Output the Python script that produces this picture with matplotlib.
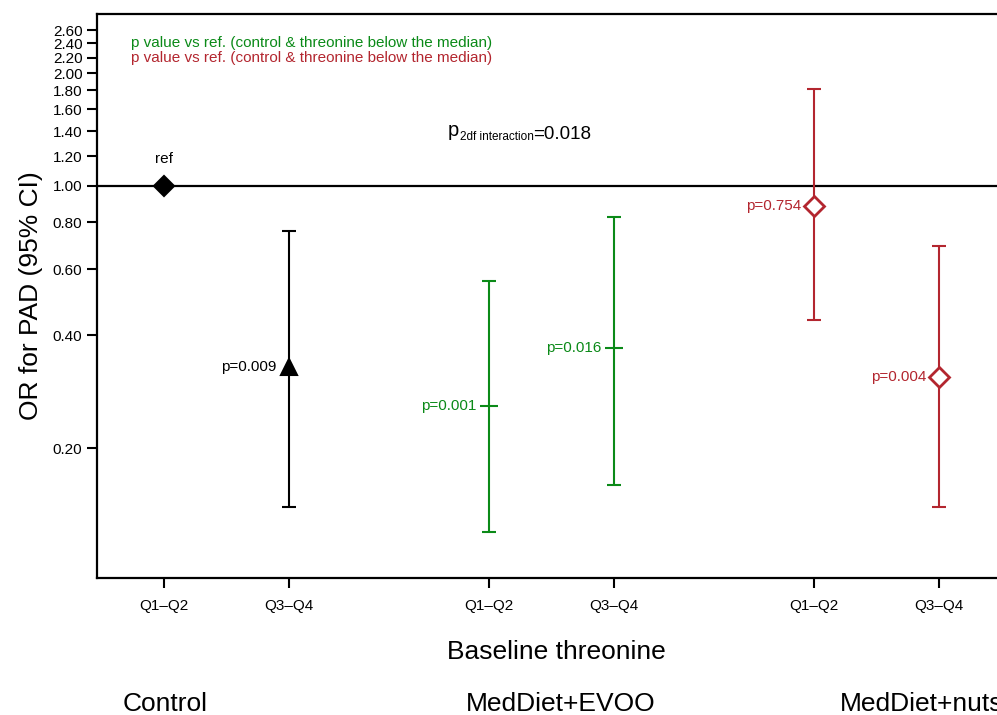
import matplotlib
matplotlib.use("Agg")
import matplotlib.pyplot as plt

plt.rcParams['font.family'] = ['Liberation Sans', 'DejaVu Sans']

# data (odds ratios, 95% CI)
groups = ["Control", "MedDiet+EVOO", "MedDiet+nuts"]
tick_labels = ["Q1\u2013Q2", "Q3\u2013Q4", "Q1\u2013Q2", "Q3\u2013Q4", "Q1\u2013Q2", "Q3\u2013Q4"]
xpos = [1, 2, 3.6, 4.6, 6.2, 7.2]
or_est = [1.00, 0.328, 0.259, 0.369, 0.886, 0.310]
ci_low = [None, 0.1395, 0.1197, 0.1593, 0.439, 0.1395]
ci_high = [None, 0.759, 0.559, 0.828, 1.811, 0.692]
p_labels = ["ref", "p=0.009", "p=0.001", "p=0.016", "p=0.754", "p=0.004"]
yticks = [0.20, 0.40, 0.60, 0.80, 1.00, 1.20, 1.40, 1.60, 1.80, 2.00, 2.20, 2.40, 2.60]

green = '#0b8a18'
red = '#b3262f'
colors = ['black', 'black', green, green, red, red]
markers = ['D', '^', '_', '_', 'D', 'D']
faces = ['black', 'black', green, green, 'white', 'white']

fig = plt.figure(figsize=(9.97, 7.15), dpi=100)
ax = fig.add_axes([0.0973, 0.1916, 0.9256, 0.7888])
ax.set_yscale('log')

ax.axhline(1.0, color='black', lw=1.6, zorder=1)

for i in range(len(xpos)):
    if ci_low[i] is not None:
        ax.errorbar(xpos[i], or_est[i],
                    yerr=[[or_est[i] - ci_low[i]], [ci_high[i] - or_est[i]]],
                    fmt='none', ecolor=colors[i], elinewidth=1.5,
                    capsize=5, capthick=1.5, zorder=2)
    ms = 13 if markers[i] == '_' else (11 if markers[i] == '^' else 10)
    ax.plot(xpos[i], or_est[i], marker=markers[i], ms=ms, color=colors[i],
            mfc=faces[i], mec=colors[i], mew=2 if faces[i] == 'white' else 1.5,
            zorder=3)
    if i == 0:
        ax.text(xpos[i], 1.18, p_labels[i], ha='center', va='center', fontsize=11)
    else:
        ax.text(xpos[i] - 0.1, or_est[i], p_labels[i], ha='right', va='center',
                fontsize=11, color=colors[i])

ax.set_ylim(0.090, 2.876)
ax.set_xlim(0.464, 7.848)
ax.set_yticks(yticks)
ax.set_yticklabels([f"{v:.2f}" for v in yticks])
ax.minorticks_off()
ax.set_xticks(xpos)
ax.set_xticklabels(tick_labels)
ax.tick_params(axis='both', direction='out', length=7, width=1.5, labelsize=11)
ax.tick_params(axis='x', pad=8)
for s in ax.spines.values():
    s.set_linewidth(1.6)

ax.set_ylabel("OR for PAD (95% CI)", fontsize=19, labelpad=7)

ax.text(0.037, 0.948, "p value vs ref. (control & threonine below the median)",
        transform=ax.transAxes, color=green, fontsize=11, va='center')
ax.text(0.037, 0.922, "p value vs ref. (control & threonine below the median)",
        transform=ax.transAxes, color=red, fontsize=11, va='center')

# p for interaction with a small subscript
t1 = ax.text(0.380, 0.783, "p", transform=ax.transAxes, fontsize=14.5, va='baseline')
t2 = ax.annotate("2df interaction", xy=(1, 0), xycoords=t1, xytext=(0.5, 0),
                 textcoords='offset points', fontsize=8.5, va='baseline')
ax.annotate("=0.018", xy=(1, 0), xycoords=t2, xytext=(0, 3),
            textcoords='offset points', fontsize=13.5, va='baseline')

fig.text(556 / 997, 1 - 652 / 715, "Baseline threonine", ha='center', va='center', fontsize=19)
group_x = [123, 466, 840]
for gx, g in zip(group_x, groups):
    fig.text(gx / 997, 1 - 704 / 715, g, ha='left', va='center', fontsize=19)

fig.savefig("out.png", dpi=100)
